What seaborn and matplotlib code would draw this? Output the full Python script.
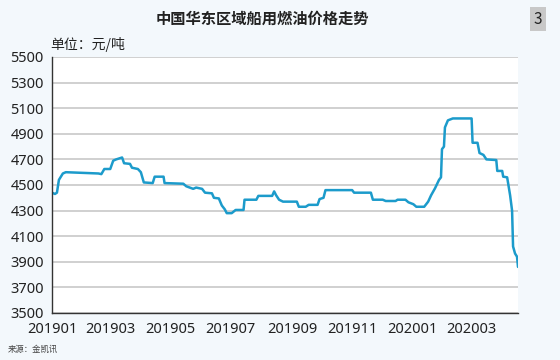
import pandas as pd
import matplotlib
matplotlib.use("Agg")
import matplotlib.pyplot as plt
import seaborn as sns

# days since 2019-01-01 and price (元/吨)
day_offsets = [0, 3, 5, 7, 11, 14, 47, 50, 53, 59, 62, 65, 71, 73, 79, 81, 87, 90, 93, 102,
               104, 113, 114, 133, 136, 143, 146, 152, 155, 162, 164, 169, 172, 175, 177, 182,
               186, 194, 195, 207, 209, 223, 225, 227, 230, 234, 248, 250, 257, 260, 269, 271,
               275, 277, 304, 306, 323, 325, 335, 338, 348, 350, 358, 361, 366, 369, 377, 381,
               384, 388, 392, 394, 395, 397, 398, 401, 406, 425, 426, 431, 433, 437, 440, 450,
               451, 456, 457, 461, 464, 466, 467, 469, 471, 472]
prices = [4440, 4430, 4440, 4540, 4590, 4600, 4590, 4585, 4625, 4625, 4690, 4700, 4715, 4670,
          4665, 4635, 4625, 4600, 4520, 4515, 4565, 4565, 4515, 4510, 4490, 4470, 4480, 4470,
          4440, 4435, 4400, 4395, 4340, 4310, 4280, 4280, 4305, 4305, 4385, 4385, 4415, 4415,
          4450, 4420, 4385, 4370, 4370, 4330, 4330, 4345, 4345, 4390, 4400, 4460, 4460, 4440,
          4440, 4385, 4385, 4375, 4375, 4385, 4385, 4365, 4350, 4330, 4330, 4370, 4420, 4475,
          4540, 4560, 4780, 4800, 4950, 5005, 5020, 5020, 4830, 4830, 4750, 4735, 4700, 4695,
          4610, 4610, 4565, 4560, 4420, 4300, 4020, 3965, 3940, 3860]
tick_labels = ["201901", "201903", "201905", "201907", "201909", "201911", "202001", "202003"]
y_ticks = list(range(3500, 5501, 200))

dates = pd.Timestamp("2019-01-01") + pd.to_timedelta(day_offsets, unit="D")
df = pd.DataFrame({"date": dates, "price": prices})

sns.set_theme(style="white")
plt.rcParams["font.family"] = ["Noto Sans CJK SC", "DejaVu Sans"]

bg = "#F3F8FC"
fig = plt.figure(figsize=(5.6, 3.6), dpi=100, facecolor=bg)
ax = fig.add_axes([52 / 560, 1 - 313 / 360, (518 - 52) / 560, (313 - 57) / 360])
ax.set_facecolor("white")

sns.lineplot(data=df, x="date", y="price", ax=ax, color="#1C9BCB", linewidth=1.8,
             estimator=None, sort=False)

ax.set_ylim(3500, 5500)
ax.set_yticks(y_ticks)
ax.set_yticklabels([str(v) for v in y_ticks], fontsize=10.5, color="#222222",
                   family=["Noto Sans", "DejaVu Sans"])
tick_dates = [pd.Timestamp(f"{t[:4]}-{t[4:]}-01") for t in tick_labels]
ax.set_xticks(tick_dates)
ax.set_xticklabels(tick_labels, fontsize=10.5, color="#222222",
                   family=["Noto Sans", "DejaVu Sans"])
ax.set_xlim(pd.Timestamp("2019-01-01"), pd.Timestamp("2019-01-01") + pd.Timedelta(days=472))
ax.tick_params(axis="y", length=0, pad=6)
ax.tick_params(axis="x", length=0, pad=6.5)
ax.set_xlabel("")
ax.set_ylabel("")
ax.grid(axis="y", color="#C8C8C8", linewidth=1.2)
ax.grid(axis="x", visible=False)
for side in ["top", "right"]:
    ax.spines[side].set_visible(False)
for side in ["left", "bottom"]:
    ax.spines[side].set_color("#333333")
    ax.spines[side].set_linewidth(1.0)

fig.text(262 / 560, 1 - 19 / 360, "中国华东区域船用燃油价格走势", ha="center", va="center",
         fontsize=11, fontweight="bold", color="#222222")
fig.text(538 / 560, 1 - 19 / 360, "3", ha="center", va="center", fontsize=11, color="#222222",
         bbox=dict(boxstyle="square,pad=0.25", facecolor="#C8C8C8", edgecolor="none"))
fig.text(50 / 560, 1 - 44 / 360, "单位：元/吨", ha="left", va="center", fontsize=10, color="#222222")
fig.text(8 / 560, 1 - 349 / 360, "来源：金凯讯", ha="left", va="center", fontsize=6, color="#444444")

fig.savefig("out.png", dpi=100, facecolor=bg)
